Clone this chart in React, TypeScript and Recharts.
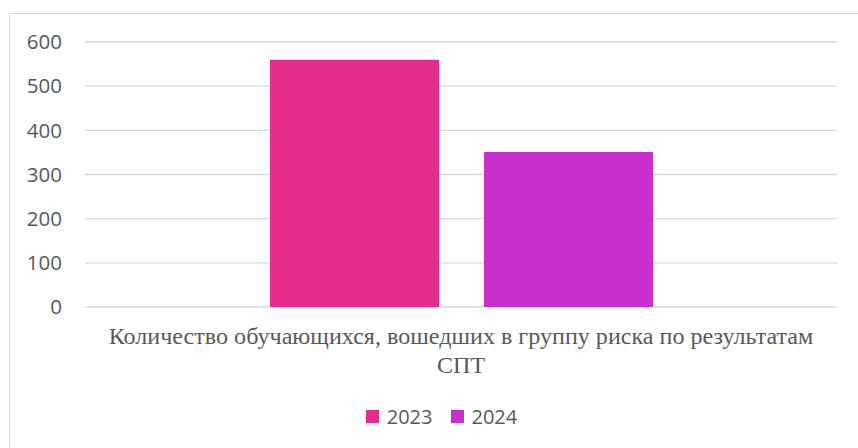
import React from 'react';
import { BarChart, Bar, XAxis, YAxis, CartesianGrid, Legend } from 'recharts';

const labelLines = ['Количество обучающихся, вошедших в группу риска по результатам', 'СПТ'];
const categories = [labelLines.join(' ')];
const values2023 = [560];
const values2024 = [351];
const seriesNames = ['2023', '2024'];
const yTicks = [0, 100, 200, 300, 400, 500, 600];

const data = categories.map((name, i) => ({
    name,
    [seriesNames[0]]: values2023[i],
    [seriesNames[1]]: values2024[i],
}));

const CategoryTick = ({ x, y }: any) => (
    <text
        x={x}
        y={y}
        textAnchor="middle"
        fill="#595959"
        fontFamily="'Liberation Serif', 'Times New Roman', serif"
        fontSize={24.1}
    >
        {labelLines.map((line, i) => (
            <tspan key={i} x={x} dy={29}>
                {line}
            </tspan>
        ))}
    </text>
);

const LegendContent = ({ payload }: any) => (
    <div style={{ display: 'flex', justifyContent: 'center', paddingLeft: 46, height: 30, fontFamily: "'Open Sans', sans-serif", fontSize: 20, color: '#595959' }}>
        {(payload || []).map((item: any, i: number) => (
            <div key={i} style={{ display: 'flex', alignItems: 'center', marginRight: i === 0 ? 18 : 0, height: 30 }}>
                <span style={{ display: 'inline-block', width: 13, height: 13, background: item.color, marginRight: 8 }} />
                <span>{item.value}</span>
            </div>
        ))}
    </div>
);

const App = () => {
    return (
        <div style={{ position: 'absolute', left: 0, top: 0, width: 858, height: 448, overflow: 'hidden', background: '#fff' }}>
            <div style={{ position: 'absolute', left: 9, top: 13, width: 900, height: 500, border: '1.3px solid #d9d9d9' }} />
            <div style={{ position: 'absolute', left: 0, top: 0 }}>
                <BarChart width={858} height={448} data={data} margin={{ top: 42, right: 21, bottom: 17, left: 0 }} barSize={169} barGap={45}>
                    <CartesianGrid vertical={false} stroke="#d9d9d9" strokeWidth={1.3} />
                    <XAxis dataKey="name" axisLine={false} tickLine={false} height={94} tick={<CategoryTick />} interval={0} />
                    <YAxis
                        width={85}
                        domain={[0, 600]}
                        ticks={yTicks}
                        axisLine={false}
                        tickLine={false}
                        tickMargin={17}
                        tick={{ fill: '#595959', fontFamily: "'Open Sans', sans-serif", fontSize: 20.5 }}
                    />
                    <Legend verticalAlign="bottom" content={<LegendContent />} />
                    <Bar dataKey={seriesNames[0]} fill="#E32E8E" isAnimationActive={false} />
                    <Bar dataKey={seriesNames[1]} fill="#C630CC" isAnimationActive={false} />
                </BarChart>
            </div>
        </div>
    );
};

export default App;
